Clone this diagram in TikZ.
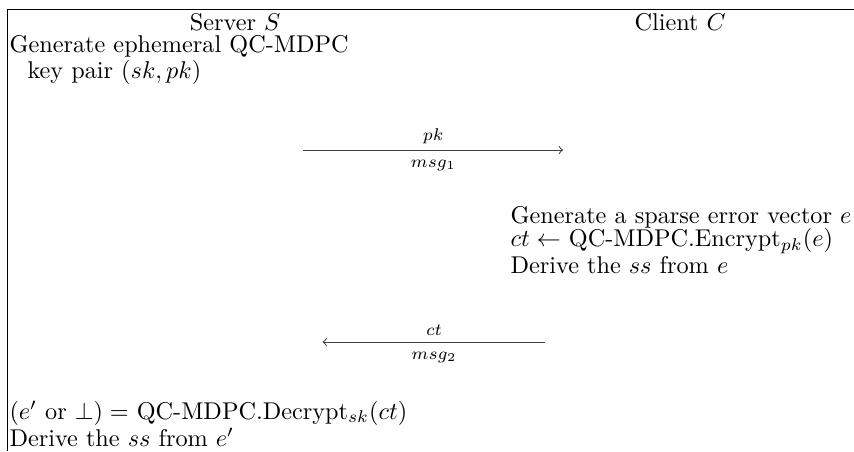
\documentclass[tikz,border=0pt]{standalone}
\usepackage{amssymb}
\usepackage{tikz}
\usetikzlibrary{%
  arrows,%
  positioning,% wg. " of "
  calc
}

\begin{document}
\begin{tikzpicture}[
  scale=1.11,
  >=to,
  line width=0.4pt,
  txt/.style={anchor=west,inner sep=0pt},
  msg/.style={font=\scriptsize,inner sep=2.5pt},
]

\useasboundingbox (0,0) rectangle (11.15,5.89);
\draw (11.15,5.766) -- (0.104,5.766) -- (0.104,0);

\node (srv) at (3.07,5.60) {Server $S$};
\node (cli) at (8.88,5.60) {Client $C$};

% server: key generation
\node[txt] (gen1) at (0.118,5.29) {Generate ephemeral QC-MDPC};
\node[txt] (gen2) at (0.353,4.95) {key pair $(sk,pk)$};

\coordinate (a1s) at (3.96,3.93);
\coordinate (a1e) at (7.35,3.93);
\draw [->,black!75] (a1s) -- node[msg,above,black] (pk) {$pk$}
  node[msg,below,black,inner sep=4pt] (m1) {$msg_1$} (a1e);

% client: encapsulation
\node[txt] (enc1) at (6.66,3.056) {Generate a sparse error vector $e$};
\node[txt] (enc2) at (6.66,2.743) {$ct \leftarrow$ QC-MDPC.Encrypt$_{pk}(e)$};
\node[txt] (enc3) at (6.66,2.429) {Derive the $ss$ from $e$};

\coordinate (a2s) at (7.12,1.424);
\coordinate (a2e) at (4.21,1.424);
\draw [->,black!75] (a2s) -- node[msg,above,black] (ct) {$ct$}
  node[msg,below,black,inner sep=4pt] (m2) {$msg_2$} (a2e);

% server: decapsulation
\node[txt] (dec1) at (0.118,0.496) {$(e'$ or $\bot) =$ QC-MDPC.Decrypt$_{sk}(ct)$};
\node[txt] (dec2) at (0.118,0.183) {Derive the $ss$ from $e'$};

\end{tikzpicture}
\end{document}
